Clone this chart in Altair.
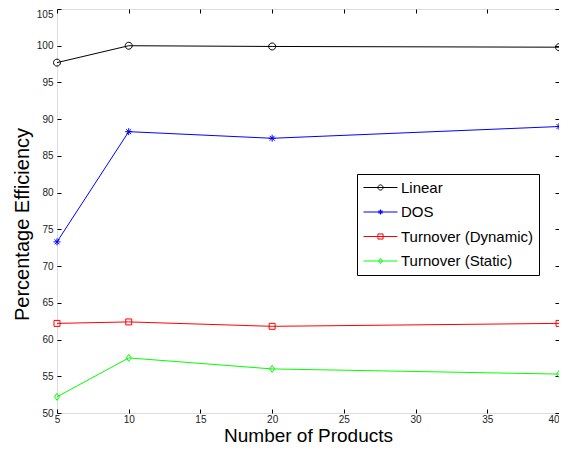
import altair as alt
import pandas as pd

products = [5, 10, 20, 40]
series_names = ["Linear", "DOS", "Turnover (Dynamic)", "Turnover (Static)"]
linear = [97.7, 100.0, 99.9, 99.8]
dos = [73.3, 88.3, 87.4, 89.0]
turn_dyn = [62.2, 62.4, 61.8, 62.2]
turn_static = [52.2, 57.5, 56.0, 55.3]
colors = ["#000000", "#0000ff", "#ff0000", "#00ff00"]
x_ticks = [5, 10, 15, 20, 25, 30, 35, 40]
y_ticks = [50, 55, 60, 65, 70, 75, 80, 85, 90, 95, 100, 105]

rows = []
for name, vals in zip(series_names, [linear, dos, turn_dyn, turn_static]):
    for xv, v in zip(products, vals):
        rows.append({"series": name, "products": xv, "efficiency": v})
df = pd.DataFrame(rows)

# marker shapes, unit box [-1, 1]
def circle(s):
    return f"M{-s},0A{s},{s},0,1,0,{s},0A{s},{s},0,1,0,{-s},0Z"

def star(s):
    a = round(0.7 * s, 4)
    return f"M{-s},0H{s}M0,{-s}V{s}M{-a},{-a}L{a},{a}M{-a},{a}L{a},{-a}"

def square(s):
    return f"M{-s},{-s}H{s}V{s}H{-s}Z"

def diamond(s):
    w = round(0.7 * s, 4)
    return f"M0,{-s}L{w},0L0,{s}L{-w},0Z"

plot_shapes = [circle(1), star(1), square(0.85), diamond(1)]
s = 0.15
legend_shapes = ["M-1,0H1" + f(s) for f in (circle, star, square, diamond)]

x_scale = alt.Scale(domain=[5, 40], nice=False, zero=False)
y_scale = alt.Scale(domain=[50, 105], nice=False, zero=False)
c_scale = alt.Scale(domain=series_names, range=colors)

common_axis = dict(tickSize=4, offset=-4, domain=False, grid=False,
                   tickColor="black", labelFont="Liberation Sans",
                   labelFontSize=10, labelColor="#222222",
                   labelFlush=False, labelOverlap=False, labelBound=False,
                   titleFont="Liberation Sans",
                   titleFontWeight="normal", titleColor="black")

lines = alt.Chart(df).mark_line(strokeWidth=1).encode(
    x=alt.X("products:Q", scale=x_scale,
            axis=alt.Axis(orient="bottom", values=x_ticks, labelPadding=1,
                          labelAlign={"condition": {"test": "datum.value == 40", "value": "right"},
                                      "value": "center"},
                          title="Number of Products", titlePadding=2, titleFontSize=19,
                          **common_axis)),
    y=alt.Y("efficiency:Q", scale=y_scale,
            axis=alt.Axis(orient="left", values=y_ticks, labelPadding=4,
                          labelOffset={"condition": {"test": "datum.value == 105", "value": 5},
                                       "value": 0},
                          title="Percentage Efficiency", titlePadding=4, titleY=215,
                          titleFontSize=20, **common_axis)),
    color=alt.Color("series:N", scale=c_scale, legend=None),
    detail="series:N",
)

points = alt.Chart(df).mark_point(filled=False, strokeWidth=1, size=49, opacity=1).encode(
    x=alt.X("products:Q", scale=x_scale,
            axis=alt.Axis(orient="top", values=x_ticks, labels=False, title=None, **common_axis)),
    y=alt.Y("efficiency:Q", scale=y_scale,
            axis=alt.Axis(orient="right", values=y_ticks, labels=False, title=None, **common_axis)),
    color=alt.Color("series:N", scale=c_scale, legend=None),
    shape=alt.Shape("series:N", scale=alt.Scale(domain=series_names, range=plot_shapes), legend=None),
)

leg = alt.Legend(orient="none", legendX=300, legendY=165, title=None,
                 padding=6, strokeColor="black", fillColor="white",
                 labelFont="Liberation Sans", labelFontSize=15, labelColor="black",
                 symbolSize=1156, symbolStrokeWidth=1, symbolOpacity=1,
                 labelOffset=3, rowPadding=8.5, clipHeight=15, labelLimit=300)

legend_layer = alt.Chart(df).mark_point(filled=False, opacity=0).encode(
    x=alt.X("products:Q", scale=x_scale, axis=None),
    y=alt.Y("efficiency:Q", scale=y_scale, axis=None),
    color=alt.Color("series:N", scale=c_scale, legend=leg),
    shape=alt.Shape("series:N", scale=alt.Scale(domain=series_names, range=legend_shapes), legend=leg),
)

chart = alt.layer(lines, points, legend_layer).resolve_scale(
    color="independent", shape="independent"
).resolve_axis(x="independent", y="independent").properties(
    width=502, height=404,
    autosize=alt.AutoSizeParams(type="none"),
    padding={"left": 49, "top": 1, "right": 0, "bottom": 31},
).configure_view(stroke="black", strokeWidth=1).configure(background="white")

chart.save("out.html", embed_options={"renderer": "svg", "actions": False})
